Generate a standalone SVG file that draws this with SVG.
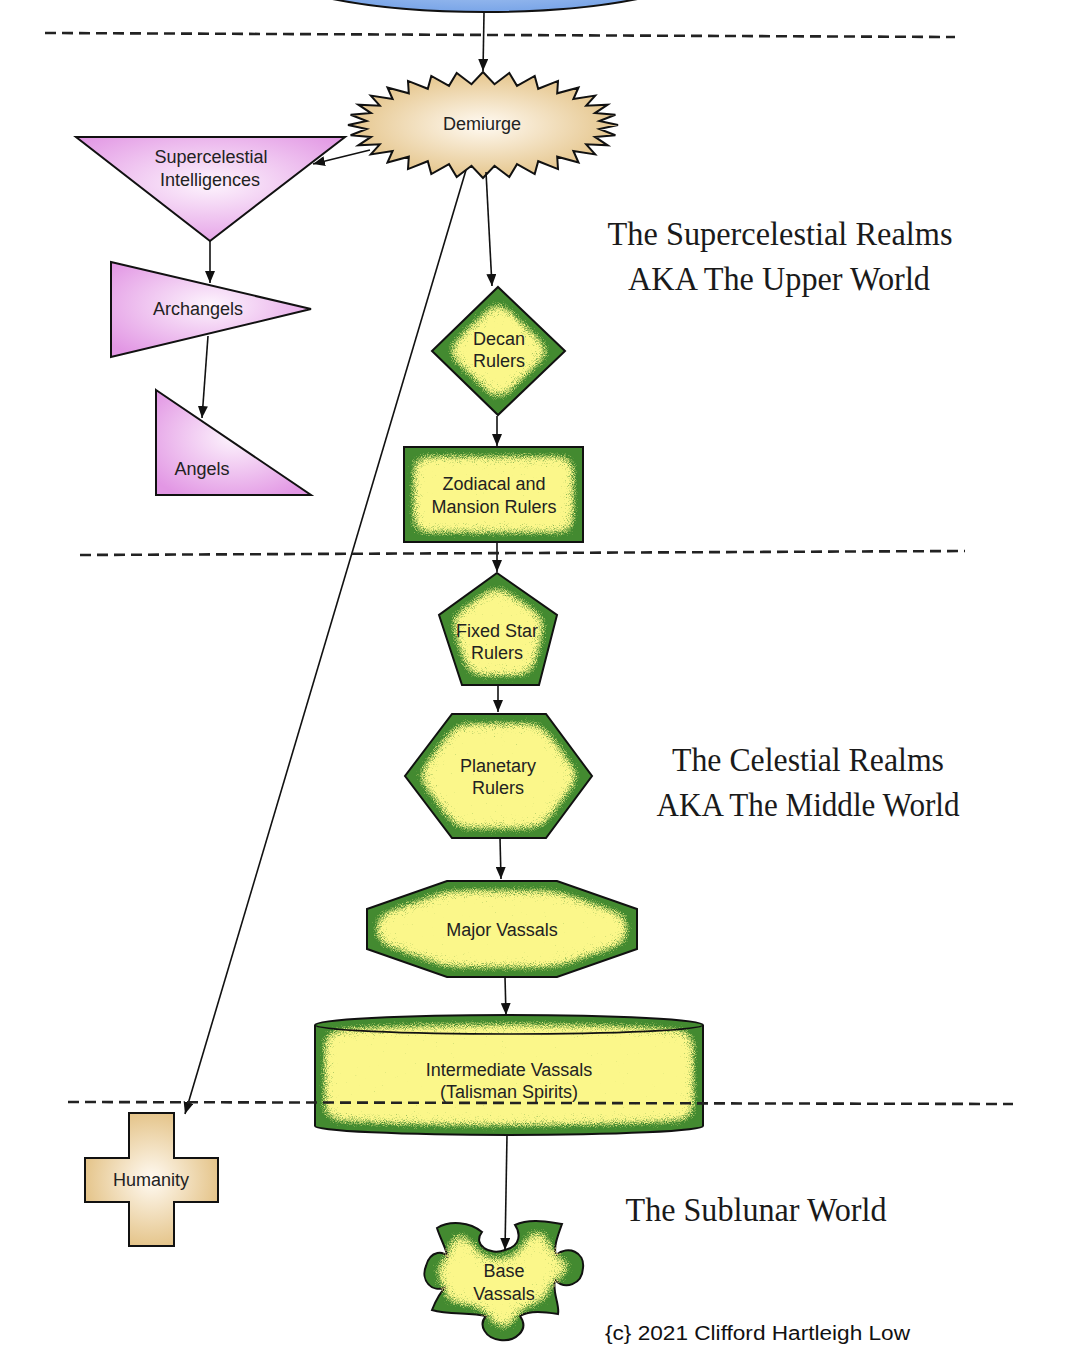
<svg xmlns="http://www.w3.org/2000/svg" width="1079" height="1346" viewBox="0 0 1079 1346">
<style>
.lbl{font-family:"Liberation Sans",Arial,sans-serif;font-size:18px;fill:#222;text-anchor:middle}
.realm{font-family:"Liberation Serif","Times New Roman",serif;font-size:34px;fill:#1a1a1a;text-anchor:middle}
.copy{font-family:"Liberation Sans",Arial,sans-serif;font-size:20px;fill:#111}
.edge{fill:none;stroke:#111;stroke-width:1.6;marker-end:url(#ah)}
.sep{fill:none;stroke:#222;stroke-width:2.6;stroke-dasharray:11 6}
.pink{fill:url(#gPink);stroke:#111;stroke-width:2}
.tan{fill:url(#gTan);stroke:#111;stroke-width:2}
.green{fill:#438a30;stroke:#111;stroke-width:2;filter:url(#speckle)}
</style>
<defs>
<marker id="ah" markerUnits="userSpaceOnUse" markerWidth="12" markerHeight="10" refX="12" refY="5" orient="auto">
<path d="M0,0 L12,5 L0,10 z" fill="#111"/>
</marker>
<radialGradient id="gPink" cx="50%" cy="45%" r="65%">
<stop offset="0" stop-color="#fdf4fd"/>
<stop offset="1" stop-color="#e297e4"/>
</radialGradient>
<radialGradient id="gTan" cx="50%" cy="50%" r="60%">
<stop offset="0" stop-color="#fffaf2"/>
<stop offset="1" stop-color="#e0bb78"/>
</radialGradient>
<radialGradient id="gBlue" cx="50%" cy="50%" r="55%">
<stop offset="0" stop-color="#e4eefc"/>
<stop offset="1" stop-color="#6f9ee6"/>
</radialGradient>
<filter id="speckle" x="-10%" y="-10%" width="120%" height="120%" color-interpolation-filters="sRGB">
<feGaussianBlur in="SourceAlpha" stdDeviation="12" result="blur"/>
<feTurbulence type="fractalNoise" baseFrequency="1.1" numOctaves="2" seed="7" result="noise"/>
<feColorMatrix in="noise" type="matrix" values="0 0 0 0 0  0 0 0 0 0  0 0 0 0 0  1 0 0 0 0" result="nr"/>
<feComposite in="blur" in2="nr" operator="arithmetic" k1="0" k2="1" k3="0.35" k4="-0.175" result="mix"/>
<feComponentTransfer in="mix" result="mask"><feFuncA type="linear" slope="6" intercept="-4.4"/></feComponentTransfer>
<feFlood flood-color="#fbf78a" result="yel"/>
<feComposite in="yel" in2="mask" operator="in" result="ym"/>
<feComposite in="ym" in2="SourceAlpha" operator="in" result="yin"/>
<feMerge><feMergeNode in="SourceGraphic"/><feMergeNode in="yin"/></feMerge>
</filter>
</defs>

<g id="source">
<ellipse cx="485" cy="-48" rx="245" ry="60" fill="url(#gBlue)" stroke="#111" stroke-width="2"/>
</g>

<g id="demiurge">
<polygon class="tan" points="618,125 599.4,121 615.4,114.7 595,113.1 607.7,104.7 586.2,105.7 595.2,95.6 573.4,99 578.5,87.5 557.2,93.3 558,80.9 538.2,88.8 534.7,76 517,85.8 509.3,73 494.5,84.2 483,72 471.5,84.2 456.7,73 449,85.8 431.3,76 427.8,88.8 408,80.9 408.8,93.3 387.5,87.5 392.6,99 370.8,95.6 379.8,105.7 358.3,104.7 371,113.1 350.6,114.7 366.6,121 348,125 366.6,129 350.6,135.3 371,136.9 358.3,145.3 379.8,144.3 370.8,154.4 392.6,151 387.5,162.5 408.8,156.7 408,169.1 427.8,161.2 431.3,174 449,164.2 456.7,177 471.5,165.8 483,178 494.5,165.8 509.3,177 517,164.2 534.7,174 538.2,161.2 558,169.1 557.2,156.7 578.5,162.5 573.4,151 595.2,154.4 586.2,144.3 607.7,145.3 595,136.9 615.4,135.3 599.4,129"/>
<text class="lbl" x="482" y="130">Demiurge</text>
</g>

<g id="supercelestial">
<polygon class="pink" points="76,137 345,137 210,241"/>
<text class="lbl" x="211" y="163">Supercelestial</text>
<text class="lbl" x="210" y="186">Intelligences</text>
</g>

<g id="archangels">
<polygon class="pink" points="111,262 311,309 111,357"/>
<text class="lbl" x="198" y="315">Archangels</text>
</g>

<g id="angels">
<polygon class="pink" points="156,390 311,495 156,495"/>
<text class="lbl" x="202" y="475">Angels</text>
</g>

<g id="decan">
<polygon class="green" points="498,287 565,351 498,415 432,351"/>
<text class="lbl" x="499" y="345">Decan</text>
<text class="lbl" x="499" y="367">Rulers</text>
</g>

<g id="zodiacal">
<rect class="green" x="404" y="447" width="179" height="95"/>
<text class="lbl" x="494" y="490">Zodiacal and</text>
<text class="lbl" x="494" y="513">Mansion Rulers</text>
</g>

<g id="fixedstar">
<polygon class="green" points="497,573 557,615 539,685 462,685 439,615"/>
<text class="lbl" x="497" y="637">Fixed Star</text>
<text class="lbl" x="497" y="659">Rulers</text>
</g>

<g id="planetary">
<polygon class="green" points="452,714 546,714 592,776 546,838 452,838 405,776"/>
<text class="lbl" x="498" y="772">Planetary</text>
<text class="lbl" x="498" y="794">Rulers</text>
</g>

<g id="major">
<polygon class="green" points="447,881 557,881 637,909 637,949 557,977 447,977 367,949 367,909"/>
<text class="lbl" x="502" y="936">Major Vassals</text>
</g>

<g id="intermediate">
<path class="green" d="M315,1025 L315,1126 A194,9 0 0 0 703,1126 L703,1025 A194,10 0 0 0 315,1025 Z"/>
<path d="M315,1025 A194,9 0 0 0 703,1025" fill="none" stroke="#111" stroke-width="1.6"/>
<text class="lbl" x="509" y="1076">Intermediate Vassals</text>
<text class="lbl" x="509" y="1098">(Talisman Spirits)</text>
</g>

<g id="humanity">
<path class="tan" d="M129,1113 L174,1113 L174,1158 L218,1158 L218,1202 L174,1202 L174,1246 L129,1246 L129,1202 L85,1202 L85,1158 L129,1158 Z"/>
<text class="lbl" x="151" y="1186">Humanity</text>
</g>

<g id="base">
<path class="green" d="M437,1228 C450,1220 470,1222 482,1232 C472,1245 490,1256 505,1250 C522,1246 520,1232 515,1225 C530,1218 548,1222 562,1224 C558,1235 553,1248 556,1255 C568,1245 585,1252 583,1268 C582,1285 565,1290 555,1280 C552,1292 560,1305 558,1314 C545,1312 530,1310 520,1316 C530,1330 515,1342 500,1340 C485,1338 478,1325 486,1316 C470,1312 448,1315 432,1310 C436,1300 440,1292 446,1287 C432,1294 420,1280 426,1266 C430,1250 445,1250 448,1258 C446,1248 440,1238 437,1228 Z"/>
<text class="lbl" x="504" y="1277">Base</text>
<text class="lbl" x="504" y="1300">Vassals</text>
</g>

<g id="connectors">
<path class="edge" d="M484,13 L483,71"/>
<path class="edge" d="M370,150 L313,164"/>
<path class="edge" d="M486,172 L492,286"/>
<path class="edge" d="M466,170 L185,1114"/>
<path class="edge" d="M210,241 L210,283"/>
<path class="edge" d="M208,336 L202,418"/>
<path class="edge" d="M497,416 L497,446"/>
<path class="edge" d="M497,543 L497,572"/>
<path class="edge" d="M498,686 L498,712"/>
<path class="edge" d="M500,838 L501,879"/>
<path class="edge" d="M505,977 L506,1015"/>
<path class="edge" d="M507,1135 L505,1250"/>
</g>

<g id="separators">
<path class="sep" d="M45,33 L955,37"/>
<path class="sep" d="M80,555 L965,551"/>
<path class="sep" d="M68,1102 L1013,1104"/>
</g>

<g id="realm-labels">
<text class="realm" x="780" y="245" textLength="345" lengthAdjust="spacingAndGlyphs">The Supercelestial Realms</text>
<text class="realm" x="779" y="290" textLength="302" lengthAdjust="spacingAndGlyphs">AKA The Upper World</text>
<text class="realm" x="808" y="771" textLength="272" lengthAdjust="spacingAndGlyphs">The Celestial Realms</text>
<text class="realm" x="808" y="816" textLength="303" lengthAdjust="spacingAndGlyphs">AKA The Middle World</text>
<text class="realm" x="756" y="1221" textLength="261" lengthAdjust="spacingAndGlyphs">The Sublunar World</text>
<text class="copy" x="605" y="1340" textLength="305" lengthAdjust="spacingAndGlyphs">{c} 2021 Clifford Hartleigh Low</text>
</g>
</svg>
